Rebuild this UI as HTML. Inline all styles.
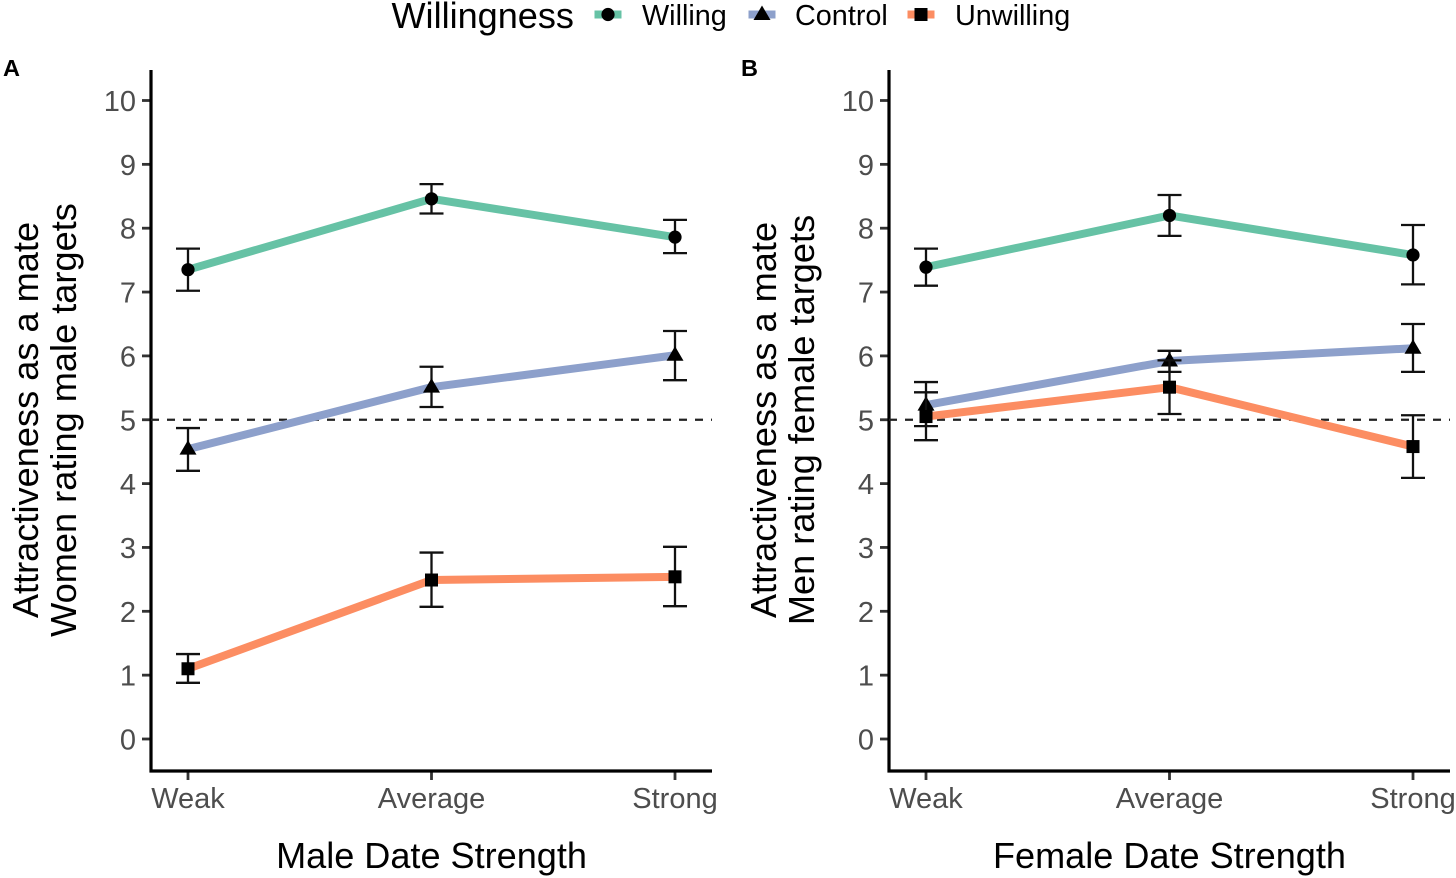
<!DOCTYPE html>
<html>
<head>
<meta charset="utf-8">
<title>Attractiveness as a mate by date strength</title>
<style>
html,body{margin:0;padding:0;background:#fff;width:1456px;height:878px;overflow:hidden}
svg{display:block;font-family:"Liberation Sans",sans-serif}
</style>
</head>
<body>
<svg id="chart" width="1456" height="878" viewBox="0 0 1456 878" xmlns="http://www.w3.org/2000/svg"></svg>
<script>
const categories = ["Weak", "Average", "Strong"];
const yTicks = [0, 1, 2, 3, 4, 5, 6, 7, 8, 9, 10];
const referenceValue = 5;
const seriesNames = ["Willing", "Control", "Unwilling"];

const aWilling = [7.35, 8.46, 7.86];
const aWillingLow = [7.02, 8.23, 7.61];
const aWillingHigh = [7.68, 8.69, 8.13];
const aControl = [4.54, 5.51, 6.01];
const aControlLow = [4.20, 5.20, 5.62];
const aControlHigh = [4.87, 5.83, 6.39];
const aUnwilling = [1.10, 2.49, 2.54];
const aUnwillingLow = [0.88, 2.07, 2.08];
const aUnwillingHigh = [1.33, 2.92, 3.01];

const bWilling = [7.39, 8.20, 7.58];
const bWillingLow = [7.10, 7.88, 7.12];
const bWillingHigh = [7.68, 8.52, 8.05];
const bControl = [5.23, 5.92, 6.12];
const bControlLow = [4.90, 5.75, 5.75];
const bControlHigh = [5.59, 6.08, 6.50];
const bUnwilling = [5.05, 5.51, 4.58];
const bUnwillingLow = [4.68, 5.09, 4.09];
const bUnwillingHigh = [5.43, 5.93, 5.07];

const NS = "http://www.w3.org/2000/svg";
const root = document.getElementById("chart");
const colors = {Willing: "#66C2A5", Control: "#8DA0CB", Unwilling: "#FC8D62"};

function make(parent, tag, attrs, text) {
  const el = document.createElementNS(NS, tag);
  for (const k in attrs) el.setAttribute(k, attrs[k]);
  if (text !== undefined) el.textContent = text;
  parent.appendChild(el);
  return el;
}
function yScale(v) { return 739 - v * 63.85; }

function drawMarker(parent, name, cx, cy) {
  let el;
  if (name === "Willing") {
    el = make(parent, "circle", {cx: cx, cy: cy, r: 6.6, fill: "#000"});
  } else if (name === "Control") {
    el = make(parent, "polygon", {points: (cx - 8.5) + "," + (cy + 5.5) + " " + (cx + 8.5) + "," + (cy + 5.5) + " " + cx + "," + (cy - 9), fill: "#000"});
  } else {
    el = make(parent, "rect", {x: cx - 6.5, y: cy - 6.5, width: 13, height: 13, fill: "#000"});
  }
  
  
}

function drawPanel(cfg) {
  const xScale = function (i) { return cfg.x0 + i * 243.5; };
  const g = make(root, "g", {});
  
  

  const tag = make(g, "text", {x: cfg.labelX, y: 76, "font-size": 23.5, "font-weight": "bold", fill: "#000"}, cfg.letter);
  
  

  yTicks.forEach(function (t) {
    const tick = make(g, "line", {x1: cfg.axisX - 9, x2: cfg.axisX, y1: yScale(t), y2: yScale(t), stroke: "#333", "stroke-width": 2.8});
    
    
    const lab = make(g, "text", {x: cfg.axisX - 15, y: yScale(t) + 10.5, "font-size": 29, "text-anchor": "end", fill: "#4d4d4d"}, String(t));
    
    
  });
  categories.forEach(function (c, i) {
    const tick = make(g, "line", {x1: xScale(i), x2: xScale(i), y1: 771, y2: 780, stroke: "#333", "stroke-width": 2.8});
    
    
    const lab = make(g, "text", {x: xScale(i), y: 808, "font-size": 29, "text-anchor": "middle", fill: "#4d4d4d"}, c);
    
    
  });

  const yAxis = make(g, "line", {x1: cfg.axisX, x2: cfg.axisX, y1: 70, y2: 772.5, stroke: "#000", "stroke-width": 3.2});
  
  
  const xAxis = make(g, "line", {x1: cfg.axisX - 1.5, x2: cfg.axisX + 561, y1: 771, y2: 771, stroke: "#000", "stroke-width": 3.2});
  
  

  const ref = make(g, "line", {x1: cfg.axisX, x2: cfg.axisX + 561, y1: yScale(referenceValue), y2: yScale(referenceValue), stroke: "#222", "stroke-width": 2.3, "stroke-dasharray": "8 8"});
  
  

  seriesNames.forEach(function (name) {
    const s = cfg.series[name];
    const pts = s.values.map(function (v, i) { return xScale(i) + "," + yScale(v); }).join(" ");
    const line = make(g, "polyline", {points: pts, fill: "none", stroke: colors[name], "stroke-width": 8, "stroke-linejoin": "round"});
    
    
  });
  seriesNames.forEach(function (name) {
    const s = cfg.series[name];
    s.values.forEach(function (v, i) {
      const x = xScale(i);
      const eb = make(g, "path", {
        d: "M" + (x - 12) + " " + yScale(s.high[i]) + "H" + (x + 12) + "M" + x + " " + yScale(s.high[i]) + "V" + yScale(s.low[i]) + "M" + (x - 12) + " " + yScale(s.low[i]) + "H" + (x + 12),
        fill: "none", stroke: "#111", "stroke-width": 2.3
      });
      
      
      drawMarker(g, name, x, yScale(v));
    });
  });

  const t1 = make(g, "text", {transform: "translate(" + (cfg.axisX - 113) + ",420) rotate(-90)", "font-size": 36.2, "text-anchor": "middle", fill: "#000"}, "Attractiveness as a mate");
  
  
  const t2 = make(g, "text", {transform: "translate(" + (cfg.axisX - 75) + ",420) rotate(-90)", "font-size": 36.2, "text-anchor": "middle", fill: "#000"}, cfg.yTitle);
  
  
  const xt = make(g, "text", {x: xScale(1), y: 868, "font-size": 36.1, "text-anchor": "middle", fill: "#000"}, cfg.xTitle);
  
  
}

drawPanel({
  id: "panel-a", letter: "A", labelX: 3, axisX: 151, x0: 188,
  yTitle: "Women rating male targets", xTitle: "Male Date Strength",
  series: {
    Willing: {values: aWilling, low: aWillingLow, high: aWillingHigh},
    Control: {values: aControl, low: aControlLow, high: aControlHigh},
    Unwilling: {values: aUnwilling, low: aUnwillingLow, high: aUnwillingHigh}
  }
});
drawPanel({
  id: "panel-b", letter: "B", labelX: 741, axisX: 889, x0: 926,
  yTitle: "Men rating female targets", xTitle: "Female Date Strength",
  series: {
    Willing: {values: bWilling, low: bWillingLow, high: bWillingHigh},
    Control: {values: bControl, low: bControlLow, high: bControlHigh},
    Unwilling: {values: bUnwilling, low: bUnwillingLow, high: bUnwillingHigh}
  }
});

const legend = make(root, "g", {});


const legendTitle = make(legend, "text", {x: 391.5, y: 28, "font-size": 36.1, fill: "#000"}, "Willingness");


const legendKeyCenters = [608, 762, 921];
const legendTextLeft = [642, 795, 955];
seriesNames.forEach(function (name, i) {
  const cx = legendKeyCenters[i];
  const key = make(legend, "rect", {x: cx - 13.5, y: 10.5, width: 27, height: 8, fill: colors[name]});
  
  
  drawMarker(legend, name, cx, 14.5);
  const label = make(legend, "text", {x: legendTextLeft[i], y: 25, "font-size": 28.8, fill: "#000"}, name);
  
  
});
</script>
</body>
</html>
